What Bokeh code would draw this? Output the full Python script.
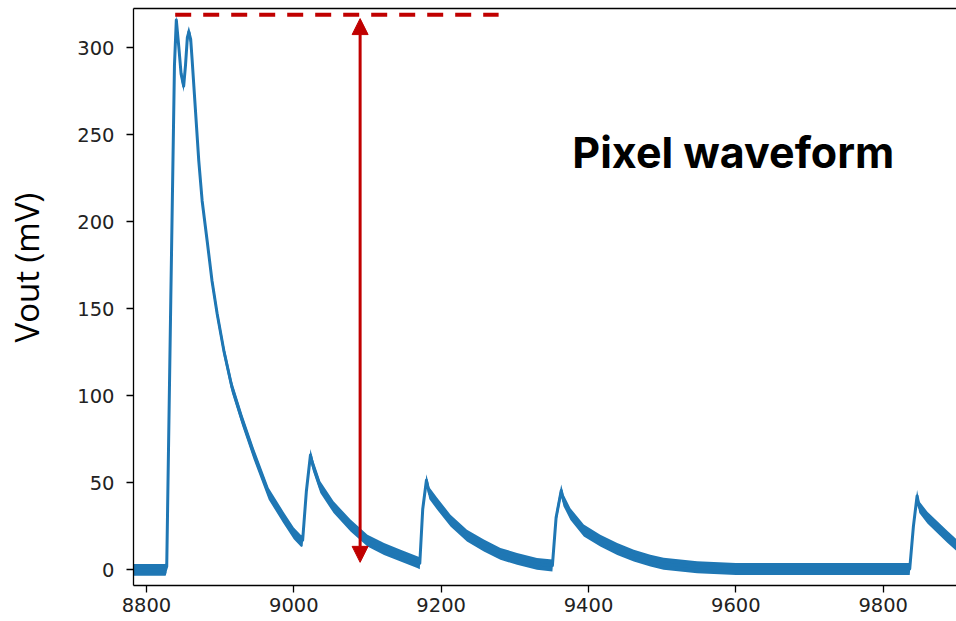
from bokeh.plotting import figure
from bokeh.models import Range1d, FixedTicker, LinearAxis, Arrow, NormalHead, Label, Title
from bokeh.embed import file_html
from bokeh.resources import INLINE

# ---- data ----
time_ns = [8782, 8800, 8815, 8826, 8827.5, 8833, 8838, 8840.5, 8844, 8847, 8850.5,
           8853, 8855.5, 8857.5, 8860, 8862, 8866.5, 8871, 8875.6, 8882.4, 8889, 8896,
           8905, 8916, 8930, 8945.6, 8966, 8986, 9000, 9010, 9012, 9017, 9022.6,
           9026, 9036, 9054, 9077, 9100, 9122.5, 9145, 9167.5, 9171, 9175,
           9180, 9184, 9194.6, 9212.7, 9235, 9258, 9280.5, 9303, 9330, 9351,
           9356, 9363, 9366, 9375.5, 9393.6, 9416, 9439, 9461.5, 9484, 9502, 9547.5,
           9600, 9700, 9800, 9836, 9841, 9846, 9849, 9860, 9887, 9900]
vout_mv = [0, 0, 0, 0, 2, 155, 290, 316, 300, 285, 278,
           290, 306, 309, 305, 293, 264, 235, 212, 189, 166, 147,
           126, 105, 86, 66.7, 43.7, 30, 21, 16.5, 17, 45, 66,
           60, 47.5, 36, 25.5, 16.8, 12, 8.2, 4.4, 3.8, 35,
           51.5, 44, 38, 28.3, 19.7, 14, 9.2, 6.3, 3.4, 2.5,
           30, 45.6, 40, 32, 22.6, 16.8, 12, 8.2, 5.3, 3.5, 1.5,
           0.5, 0.5, 0.5, 0.5, 25, 42.5, 36, 30, 19, 14]
noise_halfwidth_mv = 3.4

x_ticks = [8800, 9000, 9200, 9400, 9600, 9800]
y_ticks = [0, 50, 100, 150, 200, 250, 300]

peak_level = 319
dash_x = [8839, 9278]
arrow_x = 9090
arrow_top = 316.8
arrow_bottom = 4.3

title_text = "Pixel waveform"
y_label = "Vout (mV)"

BLUE = "#1f77b4"
RED = "#c00000"

lower = [v - noise_halfwidth_mv for v in vout_mv]
upper = [v + noise_halfwidth_mv for v in vout_mv]

p = figure(width=956, height=621,
           x_range=Range1d(8782.4, 9899.5), y_range=Range1d(-9, 322.6),
           output_backend="svg", toolbar_location=None,
           min_border_left=133, min_border_right=0,
           min_border_top=8, min_border_bottom=36)
p.outline_line_color = None
p.xgrid.visible = False
p.ygrid.visible = False
p.background_fill_color = "white"
p.border_fill_color = "white"

# waveform (noise band + trace)
p.varea(x=time_ns, y1=lower, y2=upper, fill_color=BLUE, fill_alpha=1.0)
p.line(time_ns, vout_mv, line_width=3, line_color=BLUE, line_join="round")

# dashed peak level
p.line(dash_x, [peak_level, peak_level], line_color=RED, line_width=4, line_dash="16 12")

# double-headed amplitude arrow
head_kw = dict(size=16, fill_color=RED, line_color=RED)
p.add_layout(Arrow(start=NormalHead(**head_kw), end=NormalHead(**head_kw),
                   x_start=arrow_x, y_start=arrow_bottom, x_end=arrow_x, y_end=arrow_top,
                   line_color=RED, line_width=3))

# annotation text
p.add_layout(Label(x=9378, y=240.3, text=title_text, text_font="Inter",
                   text_font_style="bold", text_font_size="43px", text_color="black",
                   text_align="left", text_baseline="alphabetic"))

# axes
for ax in (p.xaxis[0], p.yaxis[0]):
    ax.axis_line_color = "black"
    ax.axis_line_width = 1.3
    ax.major_tick_line_color = "black"
    ax.major_tick_line_width = 1.3
    ax.major_tick_in = 0
    ax.major_tick_out = 7
    ax.minor_tick_line_color = None
    ax.major_label_text_font = "DejaVu Sans"
    ax.major_label_text_font_size = "19.5px"
    ax.major_label_text_color = "#222222"

p.xaxis[0].ticker = FixedTicker(ticks=x_ticks)
p.yaxis[0].ticker = FixedTicker(ticks=y_ticks)
p.xaxis[0].major_label_standoff = 5
p.yaxis[0].major_label_standoff = 12

# blank spacer axis, then the y-axis title (off-centre as in the reference)
spacer = LinearAxis(ticker=FixedTicker(ticks=[]), axis_line_color=None,
                    major_tick_line_color=None, major_tick_out=0, major_tick_in=0,
                    minor_tick_out=0, minor_tick_in=0, major_label_standoff=0,
                    major_label_text_font_size="0px",
                    axis_label=" ", axis_label_standoff=21,
                    axis_label_text_font_size="1px", axis_label_text_color=None)
p.add_layout(spacer, "left")
p.add_layout(Title(text=y_label, align="left", offset=243, standoff=2,
                   text_font="Open Sans", text_font_style="normal",
                   text_font_size="33px", text_color="black"), "left")

# top frame line
top = LinearAxis(ticker=FixedTicker(ticks=[]), axis_line_color="black", axis_line_width=1.3,
                 major_tick_out=0, major_tick_in=0, minor_tick_out=0, minor_tick_in=0,
                 major_label_standoff=0, major_label_text_font_size="0px")
p.add_layout(top, "above")

open("out.html", "w").write(file_html(p, INLINE))
